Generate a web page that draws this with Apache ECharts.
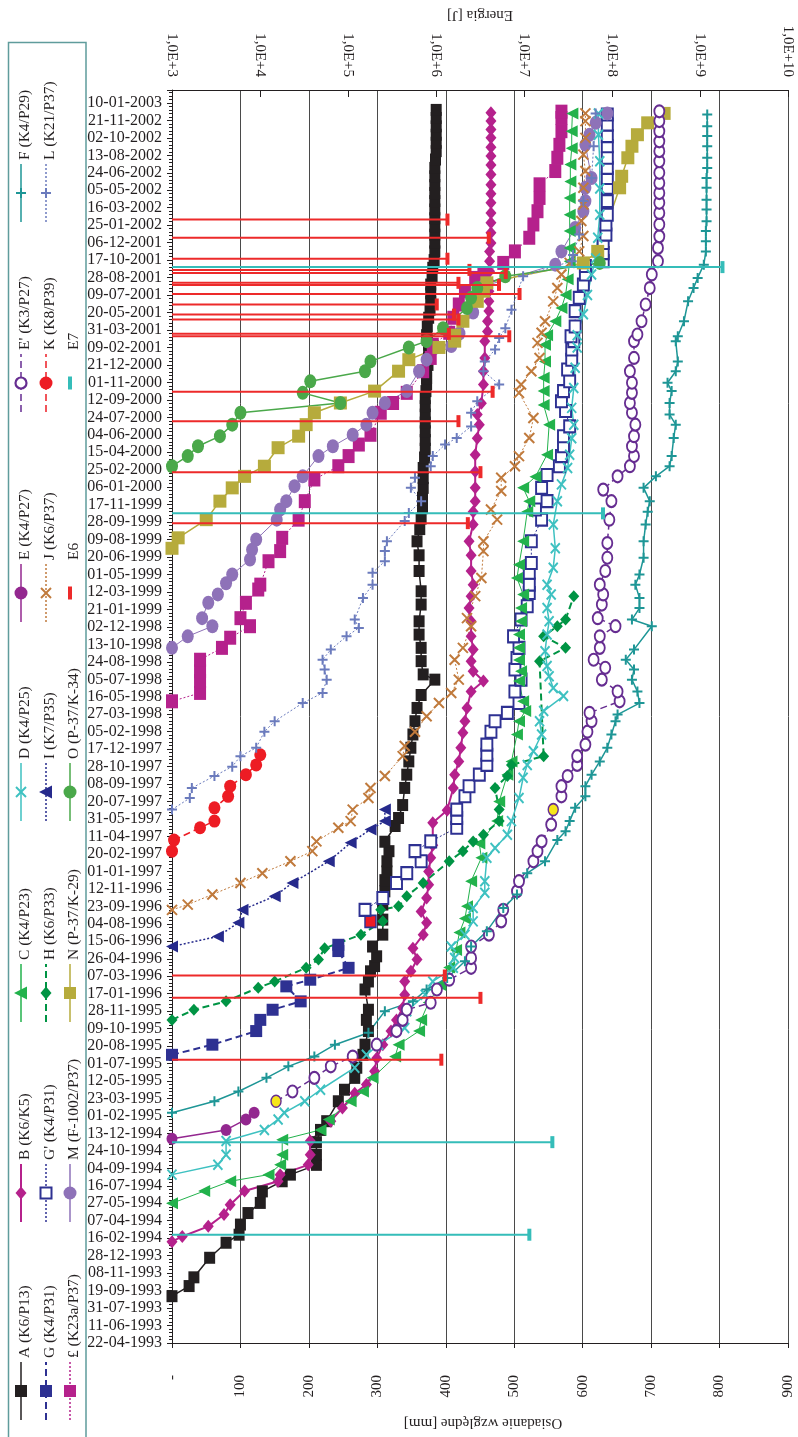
<!DOCTYPE html>
<html>
<head>
<meta charset="utf-8">
<script src="https://cdn.jsdelivr.net/npm/echarts@6/dist/echarts.min.js"></script>
<style>
  html, body { margin: 0; padding: 0; background: #fff; }
  #chart { width: 798px; height: 1437px; }
</style>
</head>
<body>
<div id="chart"></div>
<script>
// Survey dates: axis labels every 50 days from the first survey (22-04-1993).
const dateLabels = [
  '22-04-1993','11-06-1993','31-07-1993','19-09-1993','08-11-1993','28-12-1993',
  '16-02-1994','07-04-1994','27-05-1994','16-07-1994','04-09-1994','24-10-1994','13-12-1994',
  '01-02-1995','23-03-1995','12-05-1995','01-07-1995','20-08-1995','09-10-1995','28-11-1995',
  '17-01-1996','07-03-1996','26-04-1996','15-06-1996','04-08-1996','23-09-1996','12-11-1996',
  '01-01-1997','20-02-1997','11-04-1997','31-05-1997','20-07-1997','08-09-1997','28-10-1997','17-12-1997',
  '05-02-1998','27-03-1998','16-05-1998','05-07-1998','24-08-1998','13-10-1998','02-12-1998',
  '21-01-1999','12-03-1999','01-05-1999','20-06-1999','09-08-1999','28-09-1999','17-11-1999',
  '06-01-2000','25-02-2000','15-04-2000','04-06-2000','24-07-2000','12-09-2000','01-11-2000','21-12-2000',
  '09-02-2001','31-03-2001','20-05-2001','09-07-2001','28-08-2001','17-10-2001','06-12-2001',
  '25-01-2002','16-03-2002','05-05-2002','24-06-2002','13-08-2002','02-10-2002','21-11-2002',
  '10-01-2003'
];
const settlementLabels = ['-', '100', '200', '300', '400', '500', '600', '700', '800', '900'];
const energyLabels = ['1,0E+3','1,0E+4','1,0E+5','1,0E+6','1,0E+7','1,0E+8','1,0E+9','1,0E+10'];

// Relative settlement per benchmark: [days since 22-04-1993, settlement mm]
const ptsA = [[134,0],[163,25],[188,32],[244,55],[287,79],[310,98],[339,100],[372,111],[401,129],[434,132],[463,161],[482,173],[510,211],[539,211],[575,211],[610,217],[635,226],[692,243],[725,252],[759,267],[788,270],[825,279],[854,282],[893,287],[925,284],[954,287],[1012,282],[1035,287],[1064,290],[1079,296],[1107,299],[1135,293],[1169,308],[1212,308],[1255,308],[1293,311],[1325,311],[1350,314],[1379,314],[1408,317],[1435,311],[1480,326],[1503,331],[1540,337],[1589,340],[1627,343],[1665,346],[1704,349],[1742,352],[1780,355],[1818,358],[1855,364],[1899,384],[1914,367],[1952,364],[1990,364],[2028,361],[2066,361],[2114,364],[2152,364],[2210,361],[2255,361],[2295,358],[2330,362],[2360,364],[2390,366],[2420,366],[2448,367],[2476,367],[2505,367],[2535,369],[2560,370],[2585,370],[2610,370],[2635,370],[2658,370],[2682,370],[2705,370],[2725,371],[2745,372],[2762,372],[2780,372],[2800,374],[2820,375],[2840,375],[2858,375],[2872,373],[2885,372],[2910,373],[2935,375],[2958,377],[2980,378],[3005,378],[3030,378],[3054,380],[3078,381],[3100,383],[3125,384],[3150,384],[3173,384],[3197,384],[3220,384],[3245,384],[3269,384],[3292,384],[3315,384],[3340,384],[3364,384],[3388,385],[3412,386],[3436,386],[3459,386],[3483,386],[3507,386],[3530,386]];
const ptsB = [[290,0],[305,15],[334,53],[368,76],[396,85],[435,106],[463,155],[482,158],[510,199],[539,202],[578,202],[635,232],[673,249],[715,267],[740,284],[778,296],[815,299],[854,308],[893,320],[925,328],[959,337],[997,340],[1035,340],[1064,349],[1098,358],[1130,352],[1169,367],[1203,372],[1235,364],[1274,372],[1312,375],[1350,375],[1389,378],[1425,381],[1489,381],[1525,402],[1589,411],[1627,413],[1665,419],[1704,422],[1747,425],[1780,428],[1818,431],[1865,437],[1895,455],[1923,440],[1952,437],[1985,440],[2023,437],[2066,437],[2104,434],[2138,437],[2171,440],[2210,437],[2255,437],[2295,434],[2343,440],[2380,440],[2410,443],[2448,443],[2495,443],[2543,443],[2590,446],[2629,449],[2658,446],[2690,452],[2744,455],[2782,455],[2820,457],[2868,457],[2896,461],[2925,461],[2954,463],[2982,463],[3011,463],[3040,463],[3068,464],[3097,464],[3125,464],[3149,466],[3178,466],[3207,466],[3235,466],[3264,466],[3290,466],[3316,466],[3345,466],[3372,466],[3398,466],[3423,466],[3450,466],[3474,466],[3498,466],[3522,466]];
const ptsC = [[400,0],[435,47],[463,85],[482,141],[510,158],[539,161],[582,161],[610,217],[640,229],[692,261],[720,279],[759,293],[820,326],[854,331],[893,361],[925,364],[975,375],[1025,392],[1075,405],[1125,415],[1175,420],[1215,428],[1250,431],[1322,437],[1389,452],[1430,449],[1494,475],[1550,478],[1627,490],[1665,496],[1742,504],[1780,507],[1809,516],[1837,513],[1895,507],[1923,510],[1955,507],[1990,507],[2028,507],[2066,510],[2104,510],[2143,513],[2190,504],[2228,507],[2295,513],[2380,519],[2410,522],[2448,513],[2480,531],[2543,548],[2629,551],[2685,543],[2725,543],[2763,543],[2810,545],[2858,545],[2885,548],[2925,560],[2963,569],[3000,575],[3045,578],[3097,581],[3135,581],[3183,581],[3230,581],[3278,581],[3325,582],[3374,582],[3420,584],[3469,584],[3520,585]];
const ptsD = [[482,0],[510,67],[539,79],[578,79],[610,135],[640,155],[659,164],[692,194],[725,217],[788,267],[825,284],[854,302],[902,340],[950,343],[997,370],[1035,381],[1074,411],[1102,413],[1135,408],[1169,428],[1207,440],[1245,440],[1289,457],[1322,457],[1389,460],[1417,472],[1455,490],[1494,496],[1560,507],[1618,513],[1655,519],[1694,528],[1742,540],[1780,537],[1809,543],[1852,572],[1875,557],[1909,551],[1938,548],[1980,545],[2028,548],[2066,551],[2104,548],[2143,554],[2171,548],[2219,557],[2275,560],[2343,557],[2410,563],[2458,569],[2505,578],[2543,581],[2590,584],[2629,587],[2677,584],[2734,587],[2792,589],[2850,592],[2885,592],[2945,601],[3000,607],[3059,613],[3105,619],[3164,622],[3230,625],[3305,625],[3383,625],[3459,623],[3520,623]];
const ptsE = [[585,0],[610,79],[640,108],[659,120]];
const ptsE2 = [[692,152],[720,176],[759,208],[792,232],[820,264],[854,299],[893,328],[925,337],[954,343],[974,378],[1012,387],[1040,405],[1074,437],[1102,437],[1135,437],[1169,463],[1207,481],[1240,484],[1293,504],[1322,507],[1379,528],[1408,534],[1436,540],[1484,554],[1527,557],[1565,569],[1594,569],[1623,578],[1655,592],[1680,592],[1713,604],[1750,607],[1780,613],[1804,610],[1837,654],[1865,651],[1899,628],[1933,633],[1956,616],[1990,625],[2023,625],[2052,648],[2075,622],[2114,628],[2143,630],[2171,625],[2210,633],[2248,636],[2290,636],[2357,639],[2410,642],[2443,630],[2481,651],[2510,669],[2539,675],[2567,672],[2596,675],[2629,677],[2663,672],[2691,669],[2720,672],[2749,672],[2782,669],[2820,675],[2868,675],[2887,680],[2925,686],[2973,692],[3020,698],[3059,701],[3097,710],[3135,710],[3168,712],[3202,712],[3235,712],[3264,712],[3292,712],[3321,712],[3350,712],[3383,712],[3412,712],[3440,712],[3469,712],[3498,712],[3526,712]];
const ptsF = [[659,0],[692,62],[720,97],[759,138],[792,170],[820,208],[854,238],[888,287],[950,311],[978,352],[1012,372],[1045,402],[1093,428],[1135,437],[1179,460],[1245,484],[1284,504],[1345,519],[1379,545],[1440,563],[1465,575],[1494,581],[1532,589],[1565,604],[1594,604],[1627,613],[1665,625],[1704,636],[1742,642],[1780,648],[1799,651],[1832,683],[1865,680],[1899,672],[1928,675],[1956,663],[1985,675],[2052,701],[2071,672],[2104,683],[2133,683],[2171,677],[2200,683],[2248,689],[2295,689],[2343,692],[2380,695],[2410,698],[2448,689],[2481,707],[2510,727],[2539,730],[2591,733],[2629,736],[2658,727],[2691,727],[2725,730],[2749,724],[2782,736],[2810,739],[2868,736],[2882,739],[2925,748],[2982,754],[3020,762],[3049,768],[3087,777],[3125,780],[3154,780],[3183,780],[3211,781],[3245,781],[3273,781],[3307,781],[3335,781],[3364,782],[3393,782],[3426,782],[3455,782],[3483,782],[3517,782]];
const ptsG = [[825,0],[854,59],[893,123],[925,129],[954,147],[978,188],[1021,167],[1040,202],[1074,258],[1122,243],[1140,243]];
const ptsG2 = [[1207,290],[1240,282],[1274,308],[1317,328],[1345,343],[1379,364],[1408,355],[1436,378],[1475,416],[1503,416],[1527,416],[1565,428],[1594,434],[1627,449],[1655,460],[1684,460],[1713,460],[1750,466],[1780,472],[1804,490],[1832,507],[1865,501],[1899,510],[1928,501],[1961,504],[1990,507],[2023,499],[2071,510],[2109,519],[2147,522],[2171,522],[2205,522],[2233,525],[2295,525],[2357,540],[2386,531],[2410,548],[2448,540],[2485,548],[2510,566],[2539,569],[2567,572],[2596,572],[2624,581],[2668,575],[2696,569],[2725,572],[2753,581],[2787,578],[2815,584],[2844,584],[2868,587],[2882,583],[2910,589],[2954,589],[2992,595],[3030,601],[3059,604],[3083,604],[3097,630],[3120,630],[3149,630],[3173,634],[3202,634],[3230,636],[3269,636],[3307,636],[3335,636],[3364,636],[3393,636],[3426,636],[3455,636],[3488,636],[3517,636]];
const ptsH = [[925,0],[954,32],[978,79],[1017,126],[1035,150],[1074,196],[1098,214],[1130,223],[1169,276],[1207,308],[1240,305],[1250,331],[1279,343],[1317,367],[1379,405],[1408,425],[1436,440],[1455,455],[1494,478],[1527,478],[1589,472],[1623,490],[1655,496],[1680,543],[1952,537],[1990,575],[2023,543],[2052,563],[2071,575],[2138,587]];
const ptsI = [[1135,0],[1164,67],[1203,97],[1240,103],[1279,150],[1317,176],[1379,229],[1432,261],[1470,290],[1494,311],[1527,311]];
const ptsJ = [[1240,0],[1255,23],[1284,59],[1317,100],[1345,132],[1379,173],[1408,205],[1436,211],[1475,243],[1494,261],[1527,264],[1560,287],[1589,290],[1623,311],[1680,337],[1709,340],[1750,355],[1794,372],[1832,390],[1861,408],[1899,419],[1956,413],[1990,425],[2052,437],[2075,431],[2138,443],[2190,452],[2267,455],[2295,455],[2357,475],[2386,466],[2439,481],[2477,481],[2510,501],[2539,507],[2591,522],[2648,528],[2720,507],[2744,510],[2782,525],[2820,537],[2863,534],[2892,540],[2925,545],[2982,557],[3020,563],[3059,569],[3092,581],[3125,595],[3169,601],[3212,598],[3259,601],[3307,601],[3355,604],[3402,601],[3450,604],[3498,604],[3520,604]];
const ptsK = [[1408,0],[1440,3],[1475,41],[1494,62],[1532,62],[1565,82],[1594,85],[1627,108],[1655,123],[1684,129]];
const ptsL = [[1527,0],[1560,26],[1589,29],[1623,62],[1650,88],[1680,100],[1704,123],[1750,135],[1780,150],[1832,191],[1861,220],[1899,226],[1928,223],[1956,220],[1985,232],[2023,255],[2047,273],[2071,267],[2133,279],[2171,293],[2205,293],[2238,311],[2267,311],[2295,314],[2353,340],[2376,346],[2410,364],[2448,349],[2477,355],[2510,378],[2539,381],[2572,399],[2591,416],[2624,437],[2663,437],[2696,446],[2744,478],[2782,455],[2810,457],[2844,472],[2877,478],[2905,487],[2958,496],[3054,513],[3097,584],[3115,586],[3173,595],[3269,601],[3335,613],[3426,616],[3520,619]];
const ptsM = [[1990,0],[2023,23],[2052,59],[2075,44],[2119,53],[2143,67],[2175,79],[2200,88],[2243,114],[2271,117],[2300,123],[2357,153],[2386,158],[2410,167],[2453,179],[2481,191],[2539,214],[2567,235],[2600,264],[2629,284],[2663,293],[2691,311],[2725,343],[2782,361],[2815,372],[2854,408],[2890,420],[2950,440],[3025,455],[3087,560],[3125,569],[3192,589],[3240,601],[3269,604],[3307,604],[3335,613],[3430,604],[3459,610],[3493,619],[3520,636]];
const ptsN = [[2275,0],[2305,9],[2357,50],[2410,70],[2448,88],[2481,106],[2510,135],[2563,155],[2596,185],[2629,196],[2663,208],[2691,246],[2725,296],[2782,331],[2815,346],[2850,390],[2868,413],[2885,413],[2925,425],[2982,446],[3011,455],[3035,460],[3092,601],[3125,622],[3307,654],[3340,657],[3393,666],[3426,672],[3459,680],[3493,695],[3520,719]];
const ptsO = [[2510,0],[2539,23],[2567,38],[2596,70],[2629,88],[2663,100],[2691,246],[2720,191],[2753,202],[2782,282],[2810,290],[2850,346],[2868,372],[2905,396],[2963,431],[2992,437],[3020,446],[3054,487],[3092,625]];
const ptsL23 = [[1837,0],[1861,41],[1895,41],[1923,41],[1956,41],[1990,73],[2019,85],[2052,114],[2075,100],[2119,108],[2157,126],[2171,129],[2238,141],[2267,158],[2305,161],[2357,185],[2410,194],[2472,208],[2510,243],[2539,258],[2572,273],[2600,290],[2663,305],[2691,323],[2720,343],[2782,367],[2820,378],[2858,381],[2892,405],[2935,411],[2973,419],[3011,428],[3049,443],[3063,455],[3092,484],[3125,501],[3164,522],[3202,528],[3240,534],[3278,537],[3317,537],[3355,560],[3393,563],[3430,566],[3469,569],[3507,569],[3525,569]];

// Seismic events: [days since 22-04-1993, energy J]
const eventsE6 = [[3216,1.35e6],[3164,3.98e6],[3104,1.35e6],[3072,2.4e6],[3063,6.2e6],[3035,1.8e6],[3029,5.2e6],[3003,8.9e6],[2973,1.02e6],[2944,1.6e6],[2930,1.8e6],[2889,1.4e6],[2882,6.8e6],[2723,4.4e6],[2639,1.8e6],[2493,3.2e6],[2347,2.3e6],[1052,1.26e6],[988,3.2e6],[811,1.15e6]];
const eventsE7 = [[310,1.15e7],[575,2.1e7],[2375,7.9e7],[3080,1.8e9]];

const FONT = '"Liberation Serif", "DejaVu Serif", serif';
const TEXT = '#231f20';
const DAY_MAX = 3587;

const X_PATH = 'path://M0,0L10,10M10,0L0,10';
const PLUS_PATH = 'path://M5,0L5,10M0,5L10,5';
const DOT = [2, 2];
const DASH = [7, 4];

// Series styles and their slot in the legend box (col 0..2, row 0..6 from the bottom)
const benchmarks = [
  { name: 'A (K6/P13)', pts: ptsA, color: '#231f20', sym: 'rect', size: [11, 12], line: 'solid', lw: 1.5, col: 0, row: 0 },
  { name: 'G (K4/P31)', pts: ptsG, color: '#2e3192', sym: 'rect', size: [12, 12], line: DASH, lw: 2, col: 1, row: 0 },
  { name: '£ (K23a/P37)', pts: ptsL23, color: '#b5218c', sym: 'rect', size: [12, 14], line: DOT, lw: 1, col: 2, row: 0 },
  { name: 'B (K6/K5)', pts: ptsB, color: '#b5218c', sym: 'diamond', size: [11, 13], line: 'solid', lw: 2, col: 0, row: 1 },
  { name: "G' (K4/P31)", pts: ptsG2, color: '#2e3192', sym: 'emptyRect', size: [11, 12], line: DOT, lw: 1, col: 1, row: 1 },
  { name: 'M (F-1002/P37)', pts: ptsM, color: '#8e72b8', sym: 'circle', size: [12, 14], line: 'solid', lw: 1, col: 2, row: 1 },
  { name: 'C (K4/P23)', pts: ptsC, color: '#22b24c', sym: 'triangle', rot: 90, size: [12, 12], line: 'solid', lw: 1, col: 0, row: 2 },
  { name: 'H (K6/P33)', pts: ptsH, color: '#009444', sym: 'diamond', size: [11, 12], line: DASH, lw: 2, col: 1, row: 2 },
  { name: 'N (P-37/K-29)', pts: ptsN, color: '#b6ab3c', sym: 'rect', size: [13, 13], line: 'solid', lw: 1.5, col: 2, row: 2 },
  { name: 'D (K4/P25)', pts: ptsD, color: '#3ec1c1', sym: X_PATH, size: [9, 10], line: 'solid', lw: 1.5, col: 0, row: 3, stroke: 2 },
  { name: 'I (K7/P35)', pts: ptsI, color: '#262a8c', sym: 'triangle', rot: 90, size: [12, 12], line: DOT, lw: 1.5, col: 1, row: 3 },
  { name: 'O (P-37/K-34)', pts: ptsO, color: '#4aa84a', sym: 'circle', size: [12, 14], line: 'solid', lw: 1.5, col: 2, row: 3 },
  { name: 'E (K4/P27)', pts: ptsE, color: '#93278f', sym: 'circle', size: [11, 12], line: 'solid', lw: 1.5, col: 0, row: 4 },
  { name: 'J (K6/P37)', pts: ptsJ, color: '#c07a3c', sym: X_PATH, size: [10, 10], line: DOT, lw: 1, col: 1, row: 4, stroke: 2 },
  { name: "E' (K3/P27)", pts: ptsE2, color: '#662d91', sym: 'emptyCircle', size: [10, 12], line: DASH, lw: 1.5, col: 0, row: 5 },
  { name: 'K (K8/P39)', pts: ptsK, color: '#ed1c24', sym: 'circle', size: [12, 13], line: DASH, lw: 1.5, col: 1, row: 5 },
  { name: 'F (K4/P29)', pts: ptsF, color: '#1e9696', sym: PLUS_PATH, size: [10, 10], line: 'solid', lw: 1.5, col: 0, row: 6, stroke: 2 },
  { name: 'L (K21/P37)', pts: ptsL, color: '#6b7bbd', sym: PLUS_PATH, size: [10, 10], line: DOT, lw: 1, col: 1, row: 6, stroke: 2 }
];
const eventKinds = [
  { name: 'E6', pts: eventsE6, color: '#ed2a2a', col: 2, row: 4 },
  { name: 'E7', pts: eventsE7, color: '#35bdb9', col: 2, row: 5 }
];

// Point overrides: the first point of E' and one mid-1998 reading are highlighted yellow,
// the first reading of G' red.
function pointData(b) {
  return b.pts.map(function (p, i) {
    const v = [p[1], p[0]];
    if (b.name === "E' (K3/P27)" && (i === 0 || p[0] === 1527)) {
      return { value: v, symbol: 'circle', itemStyle: { color: '#f6e61a', borderColor: '#662d91', borderWidth: 1.5 } };
    }
    if (b.name === "G' (K4/P31)" && i === 0) {
      return { value: v, symbol: 'rect', itemStyle: { color: '#ed1c24', borderColor: '#2e3192', borderWidth: 1.5 } };
    }
    return v;
  });
}

const lineSeries = benchmarks.map(function (b) {
  const empty = b.sym === 'emptyCircle' || b.sym === 'emptyRect';
  return {
    name: b.name,
    type: 'line',
    xAxisIndex: 0,
    yAxisIndex: 0,
    data: pointData(b),
    symbol: b.sym,
    symbolSize: b.size,
    symbolRotate: b.rot || 0,
    showSymbol: true,
    animation: false,
    lineStyle: { color: b.color, width: b.lw, type: b.line },
    itemStyle: {
      color: b.color,
      borderColor: b.color,
      borderWidth: b.stroke || (empty ? 2 : 0)
    },
    emphasis: { disabled: true },
    z: 2
  };
});

function eventRenderer(color) {
  return function (params, api) {
    const p = api.coord([api.value(0), api.value(1)]);
    const x0 = params.coordSys.x;
    return {
      type: 'group',
      children: [
        { type: 'line', shape: { x1: x0, y1: p[1], x2: p[0], y2: p[1] }, style: { stroke: color, lineWidth: 2 } },
        { type: 'rect', shape: { x: p[0] - 2, y: p[1] - 6, width: 4, height: 12 }, style: { fill: color } }
      ]
    };
  };
}

const eventSeries = eventKinds.map(function (e) {
  return {
    name: e.name,
    type: 'custom',
    xAxisIndex: 1,
    yAxisIndex: 0,
    data: e.pts.map(function (p) { return [p[1], p[0]]; }),
    encode: { x: 0, y: 1 },
    renderItem: eventRenderer(e.color),
    animation: false,
    z: 4
  };
});

// Legend: drawn as rotated graphic groups inside a framed box on the left.
const legendColX = [21, 46, 70];
const legendRowY = [1391, 1193, 993, 792, 593, 383, 193];

function crossLines(segs, c) {
  return segs.map(function (s) {
    return { type: 'line', shape: { x1: s[0], y1: s[1], x2: s[2], y2: s[3] }, style: { stroke: c, lineWidth: 2 } };
  });
}

function legendMarks(b) {
  const c = b.color;
  if (b.sym === 'rect') return [{ type: 'rect', shape: { x: -6, y: -6, width: 12, height: 12 }, style: { fill: c } }];
  if (b.sym === 'emptyRect') return [{ type: 'rect', shape: { x: -5.5, y: -5.5, width: 11, height: 11 }, style: { fill: '#fff', stroke: c, lineWidth: 2 } }];
  if (b.sym === 'circle') return [{ type: 'circle', shape: { cx: 0, cy: 0, r: 6.5 }, style: { fill: c } }];
  if (b.sym === 'emptyCircle') return [{ type: 'circle', shape: { cx: 0, cy: 0, r: 5.5 }, style: { fill: '#fff', stroke: c, lineWidth: 2.2 } }];
  if (b.sym === 'diamond') return [{ type: 'polygon', shape: { points: [[-6.5, 0], [0, -5.5], [6.5, 0], [0, 5.5]] }, style: { fill: c } }];
  if (b.sym === 'triangle') return [{ type: 'polygon', shape: { points: [[0, -7], [6.5, 6], [-6.5, 6]] }, style: { fill: c } }];
  if (b.sym === X_PATH) return crossLines([[-5, -5, 5, 5], [5, -5, -5, 5]], c);
  if (b.sym === PLUS_PATH) return crossLines([[0, -5, 0, 5], [-5, 0, 5, 0]], c);
  return [];
}

function legendGroup(b, isEvent) {
  let children = [];
  if (!isEvent) {
    const dash = b.line === 'solid' ? null : b.line;
    children.push({ type: 'line', shape: { x1: -29, y1: 0, x2: 29, y2: 0 }, style: { stroke: b.color, lineWidth: Math.max(1.5, b.lw), lineDash: dash } });
    children = children.concat(legendMarks(b));
  } else {
    children.push({ type: 'rect', shape: { x: -6.5, y: -2, width: 13, height: 4 }, style: { fill: b.color } });
  }
  children.push({
    type: 'text', x: 33, y: 3.5,
    style: { text: b.name, font: '15.5px ' + FONT, fill: TEXT, align: 'left', verticalAlign: 'middle' }
  });
  return {
    type: 'group',
    x: legendColX[b.col],
    y: legendRowY[b.row],
    rotation: Math.PI / 2,
    children: children
  };
}

const graphics = [
  { type: 'rect', shape: { x: 8.5, y: 42.5, width: 77.5, height: 1420 }, style: { fill: 'none', stroke: '#5f9c9c', lineWidth: 1.5 }, z: 0 },
  { type: 'text', x: 480, y: 15, rotation: Math.PI, style: { text: 'Energia [J]', font: '15px ' + FONT, fill: TEXT, align: 'center', verticalAlign: 'middle' } },
  { type: 'text', x: 483, y: 1423, rotation: Math.PI, style: { text: 'Osiadanie względne [mm]', font: '15px ' + FONT, fill: TEXT, align: 'center', verticalAlign: 'middle' } }
].concat(benchmarks.map(function (b) { return legendGroup(b, false); }))
 .concat(eventKinds.map(function (e) { return legendGroup(e, true); }));

const chart = echarts.init(document.getElementById('chart'), null, { renderer: 'canvas' });
chart.setOption({
  animation: false,
  backgroundColor: '#ffffff',
  grid: { left: 172, right: 10, top: 90, bottom: 94, containLabel: false },
  xAxis: [
    {
      type: 'value', position: 'bottom', min: 0, max: 900, interval: 100,
      axisLine: { show: true, lineStyle: { color: '#231f20', width: 1 } },
      axisTick: { show: true, length: 5, lineStyle: { color: '#231f20' } },
      axisLabel: {
        rotate: 90, margin: 32, fontFamily: FONT, fontSize: 15, color: TEXT,
        formatter: function (v) { return settlementLabels[Math.round(v / 100)]; }
      },
      splitLine: { show: true, lineStyle: { color: '#4a4a4a', width: 1 } }
    },
    {
      type: 'log', position: 'top', logBase: 10, min: 1e3, max: 1e10, interval: 1,
      axisLine: { show: true, onZero: false, lineStyle: { color: '#231f20', width: 1 } },
      axisTick: { show: true, inside: true, length: 7, lineStyle: { color: '#231f20' } },
      axisLabel: {
        rotate: 90, margin: 13, fontFamily: FONT, fontSize: 15, color: TEXT,
        formatter: function (v) { return energyLabels[Math.round(Math.log10(v)) - 3]; }
      },
      splitLine: { show: false }
    }
  ],
  yAxis: {
    type: 'value', min: 0, max: DAY_MAX, interval: 50,
    axisLine: { show: true, lineStyle: { color: '#231f20', width: 1 } },
    axisTick: { show: true, length: 5, lineStyle: { color: '#231f20' } },
    minorTick: { show: true, splitNumber: 5, length: 3, lineStyle: { color: '#231f20' } },
    axisLabel: {
      margin: 10, fontFamily: FONT, fontSize: 16, color: TEXT, showMaxLabel: false,
      formatter: function (v) { const i = Math.round(v / 50); return (v % 50 === 0 && dateLabels[i]) ? dateLabels[i] : ''; }
    },
    splitLine: { show: false }
  },
  series: lineSeries.concat(eventSeries),
  graphic: graphics
});
</script>
</body>
</html>
